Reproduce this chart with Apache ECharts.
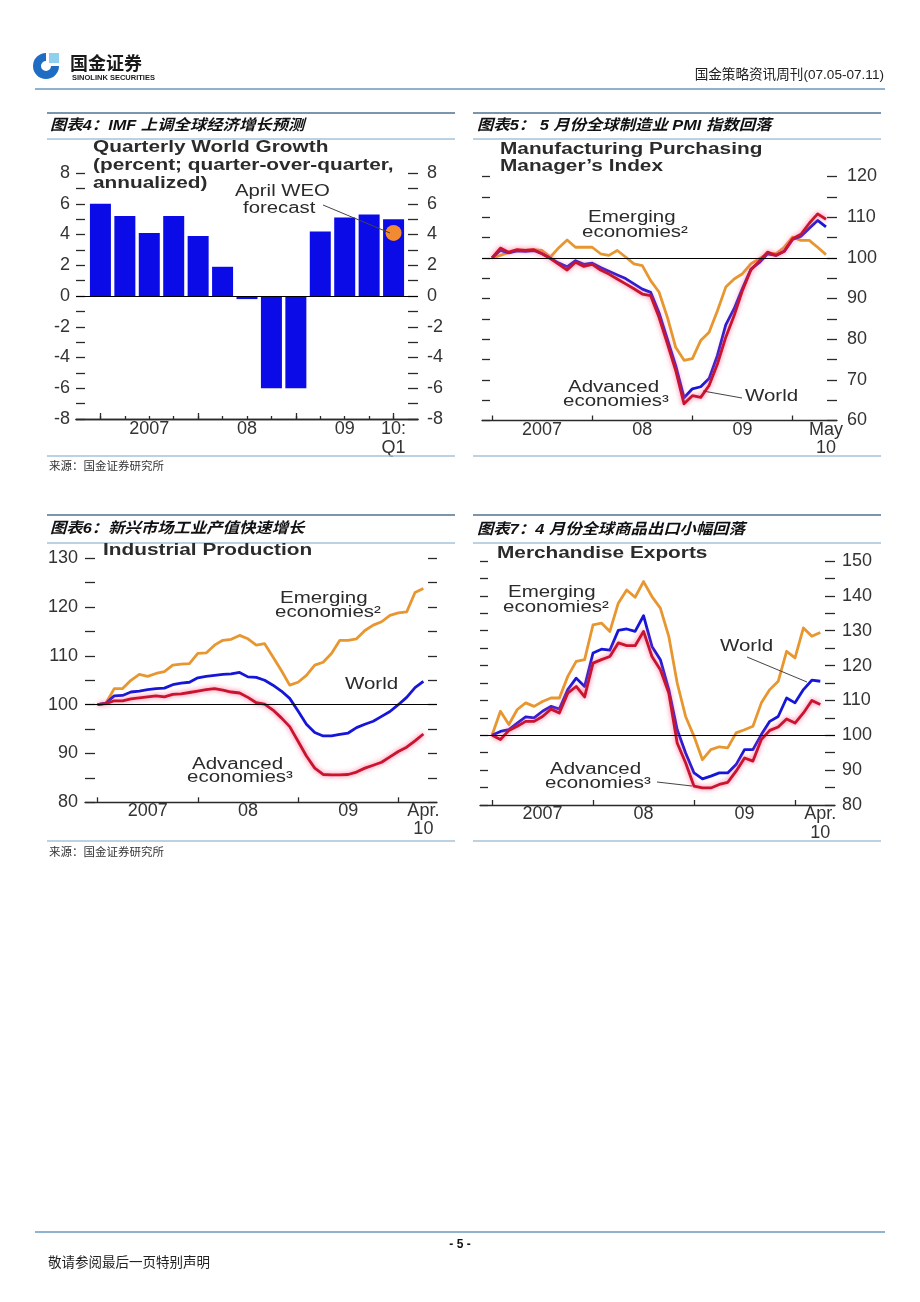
<!DOCTYPE html>
<html>
<head>
<meta charset="utf-8">
<script src="https://cdn.jsdelivr.net/npm/echarts@6/dist/echarts.min.js"></script>
<style>
html,body{margin:0;padding:0;background:#fff;}
#c{width:920px;height:1302px;}
</style>
</head>
<body>
<div id="c"></div>
<script>
// ---------- DATA ----------
// Chart 4: quarterly world growth, 2007Q1 .. 2010Q1
const quarterCats = ['2007Q1','2007Q2','2007Q3','2007Q4','2008Q1','2008Q2','2008Q3','2008Q4','2009Q1','2009Q2','2009Q3','2009Q4','2010Q1'];
const growthValues = [6.0, 5.2, 4.1, 5.2, 3.9, 1.9, -0.2, -6.0, -6.0, 4.2, 5.1, 5.3, 5.0];
const forecastIndex = 12;
const forecastValue = 4.1;
const growthTickLabels = {2:'2007', 6:'08', 10:'09', 12:'10:\nQ1'};

// Chart 5: PMI index, Jan 2007 .. May 2010 (monthly)
const pmiEmerging = [100, 100.6, 101.3, 101.8, 101.9, 102.0, 101.8, 100.2, 102.5, 104.4, 102.6, 102.6, 102.6, 101.0, 100.6, 101.8, 100.2, 98.5, 98.1, 94.4, 91.6, 85.4, 78.0, 74.8, 75.2, 79.7, 81.7, 87.0, 92.8, 94.8, 96.1, 98.5, 99.8, 101.0, 101.0, 102.6, 105.1, 104.3, 104.3, 102.6, 100.8];
const pmiWorld    = [100, 101.8, 101.2, 101.7, 101.6, 101.8, 101.0, 99.9, 98.7, 97.8, 99.3, 98.4, 98.7, 97.6, 96.7, 95.8, 94.9, 93.6, 92.3, 91.5, 86.5, 80.0, 73.5, 65.6, 67.8, 68.3, 70.3, 76.0, 83.5, 87.5, 92.5, 97.2, 98.8, 101.0, 100.6, 101.6, 104.5, 105.3, 107.3, 109.2, 107.6];
const pmiAdvanced = [100, 102.4, 101.4, 102.0, 101.8, 102.0, 101.0, 99.8, 98.4, 97.0, 98.9, 97.9, 98.4, 97.0, 96.0, 94.8, 93.6, 92.4, 91.1, 90.7, 85.4, 78.9, 72.3, 64.1, 66.1, 65.7, 68.6, 73.9, 80.5, 85.8, 92.0, 97.0, 99.2, 101.4, 100.6, 101.6, 104.7, 105.8, 108.5, 110.8, 109.5];
const pmiTickLabels = {6:'2007', 18:'08', 30:'09', 40:'May\n10'};

// Chart 6: industrial production, Jan 2007 .. Apr 2010
const ipEmerging = [100, 100.3, 103.3, 103.3, 105.0, 106.2, 105.8, 106.4, 106.8, 108.1, 108.3, 108.4, 110.5, 110.6, 112.2, 113.2, 113.4, 114.2, 113.5, 112.2, 112.5, 109.8, 107.0, 104.0, 104.6, 106.0, 108.1, 108.7, 110.5, 113.2, 113.2, 113.5, 115.2, 116.3, 117.0, 118.3, 118.8, 119.0, 123.0, 123.8];
const ipWorld    = [100, 100.3, 101.8, 101.9, 102.6, 102.8, 103.1, 103.3, 103.4, 104.1, 104.4, 104.6, 105.5, 105.8, 106.0, 106.2, 106.3, 106.6, 105.7, 105.6, 105.0, 104.0, 102.8, 101.3, 98.7, 96.0, 94.3, 93.6, 93.6, 93.9, 94.2, 95.3, 96.0, 96.6, 97.6, 98.6, 100.0, 101.5, 103.5, 104.8];
const ipAdvanced = [100, 100.2, 100.8, 100.8, 101.2, 101.4, 101.6, 101.8, 101.6, 102.1, 102.2, 102.5, 102.8, 103.1, 103.3, 103.0, 102.6, 102.4, 101.5, 100.4, 100.1, 98.9, 97.3, 95.5, 92.5, 89.5, 87.0, 85.7, 85.6, 85.6, 85.7, 86.2, 87.0, 87.6, 88.2, 89.3, 90.4, 91.3, 92.6, 94.0];
const monthlyTickLabels = {6:'2007', 18:'08', 30:'09', 39:'Apr.\n10'};

// Chart 7: merchandise exports, Jan 2007 .. Apr 2010
const exEmerging = [100, 106.9, 103.1, 107.4, 109.3, 108.3, 109.7, 110.7, 110.7, 116.9, 121.2, 121.7, 131.7, 132.2, 129.8, 137.9, 141.7, 139.6, 144.1, 139.8, 136.5, 128.4, 115.0, 105.4, 99.7, 93.0, 95.9, 96.7, 96.4, 100.7, 101.6, 102.6, 109.3, 113.1, 115.5, 124.1, 122.2, 130.8, 128.4, 129.5];
const exWorld    = [100, 101.1, 101.6, 103.5, 105.3, 105.0, 106.9, 108.3, 107.5, 113.1, 116.4, 114.0, 123.6, 124.7, 124.4, 130.1, 130.5, 129.8, 134.3, 125.5, 121.7, 113.1, 101.6, 94.9, 89.2, 87.5, 88.3, 89.2, 89.2, 91.6, 95.9, 95.9, 100.2, 104.0, 105.4, 110.7, 109.3, 113.1, 115.8, 115.5];
const exAdvanced = [100, 98.8, 101.4, 102.6, 104.0, 104.0, 105.4, 107.5, 106.4, 112.1, 114.0, 111.0, 120.7, 121.7, 122.6, 126.5, 125.7, 125.7, 129.8, 122.6, 118.8, 112.1, 97.8, 92.1, 85.4, 84.9, 84.9, 85.9, 86.5, 89.7, 93.5, 92.6, 98.8, 101.4, 102.4, 104.7, 103.5, 106.4, 110.0, 108.8];

// ---------- STYLE ----------
const AX = '#2a2a2a';
const TXT = '#2b2b2b';
const LAT = '"Liberation Sans", Arial, sans-serif';
const CJK = '"Liberation Sans", "Noto Sans CJK SC", sans-serif';
const C_OR = '#E8962F', C_BL = '#1616D8', C_RD = '#C8142E';
const LBL = {fontFamily: LAT, fontSize: 18, color: '#333'};

function range(a, b, s) { const r = []; for (let v = a; v <= b + 1e-9; v += s) r.push(+v.toFixed(6)); return r; }

function yAx(grid, pos, min, max, interval, tickLen, labels, margin) {
  return {
    type: 'value', gridIndex: grid, position: pos, min: min, max: max, interval: interval,
    axisLine: {show: false, onZero: false}, splitLine: {show: false},
    axisTick: {show: true, inside: true, length: tickLen, lineStyle: {color: AX, width: 1.3}},
    axisLabel: labels ? Object.assign({show: true, customValues: labels, margin: margin}, LBL) : {show: false}
  };
}
function xAx(grid, min, max, ticks, tickLen, labelMap, margin, lh) {
  const o = {
    type: 'value', gridIndex: grid, position: 'bottom', min: min, max: max,
    axisLine: {show: true, onZero: false, lineStyle: {color: AX, width: 1.3}},
    splitLine: {show: false},
    axisTick: {show: true, inside: true, length: tickLen, customValues: ticks, lineStyle: {color: AX, width: 1.3}},
    axisLabel: {show: false}
  };
  if (labelMap) {
    o.axisLabel = Object.assign({
      show: true, margin: margin, lineHeight: lh,
      customValues: Object.keys(labelMap).map(Number),
      formatter: v => labelMap[v] || ''
    }, LBL);
  }
  return o;
}
const zeroLine = (v) => ({silent: true, symbol: ['none', 'none'], label: {show: false},
  lineStyle: {color: '#000', width: 1, type: 'solid'}, data: [{yAxis: v}]});

function lineS(xi, yi, arr, color, glow, extra) {
  const s = {
    type: 'line', xAxisIndex: xi, yAxisIndex: yi, symbol: 'none', showSymbol: false,
    data: arr.map((v, i) => [i, v]),
    lineStyle: {color: color, width: 2.8, join: 'round'}, z: glow ? 4 : 3
  };
  if (glow) { s.lineStyle.shadowColor = 'rgba(255,90,140,0.9)'; s.lineStyle.shadowBlur = 5; }
  return Object.assign(s, extra || {});
}

// ---------- GRAPHIC helpers ----------
function txt(x, y, text, font, opts) {
  opts = opts || {};
  return {type: 'text', x: x, y: y, scaleX: opts.sx || 1, z: 50,
    style: {text: text, font: font, fill: opts.fill || TXT,
      textAlign: opts.align || 'left', align: opts.align || 'left',
      textVerticalAlign: 'middle', verticalAlign: 'middle'}};
}
function hline(x1, y, x2, color, w) {
  return {type: 'line', z: 40, shape: {x1: x1, y1: y, x2: x2, y2: y}, style: {stroke: color, lineWidth: w}};
}
function seg(x1, y1, x2, y2) {
  return {type: 'line', z: 45, shape: {x1: x1, y1: y1, x2: x2, y2: y2}, style: {stroke: '#444', lineWidth: 1}};
}
const TITLE_F = 'bold 16px ' + LAT;
const ANN_F = '16px ' + LAT;
const CT_F = 'italic bold 15px ' + CJK;
const SX = 1.3;
const CSX = 1.09;

const graphics = [
  // header
  {type: 'sector', z: 50, shape: {cx: 46, cy: 66, r: 13, r0: 5, startAngle: 0, endAngle: Math.PI * 1.5, clockwise: true}, style: {fill: '#1f6dc2'}},
  {type: 'rect', z: 50, shape: {x: 49, y: 53, width: 10, height: 10}, style: {fill: '#8fd0ee'}},
  txt(70, 63, '国金证券', 'bold 18px "Noto Sans CJK SC"', {fill: '#1a1a1a'}),
  txt(72, 78, 'SINOLINK SECURITIES', 'bold 7.5px ' + LAT, {fill: '#1a1a1a'}),
  txt(884, 75, '国金策略资讯周刊(07.05-07.11)', '13.6px ' + CJK, {align: 'right', fill: '#222'}),
  hline(35, 89, 885, '#8fb3cf', 2),
  // panel lines
  hline(47, 113, 455, '#7d95ab', 2), hline(473, 113, 881, '#7d95ab', 2),
  hline(47, 139, 455, '#a6c3d8', 1.5), hline(473, 139, 881, '#a6c3d8', 1.5),
  hline(47, 456, 455, '#a6c3d8', 1.5), hline(473, 456, 881, '#a6c3d8', 1.5),
  hline(47, 515, 455, '#7d95ab', 2), hline(473, 515, 881, '#7d95ab', 2),
  hline(47, 543, 455, '#a6c3d8', 1.5), hline(473, 543, 881, '#a6c3d8', 1.5),
  hline(47, 841, 455, '#a6c3d8', 1.5), hline(473, 841, 881, '#a6c3d8', 1.5),
  // chinese titles
  txt(50, 126, '图表4：IMF 上调全球经济增长预测', CT_F, {fill: '#111', sx: CSX}),
  txt(477, 126, '图表5： 5 月份全球制造业 PMI 指数回落', CT_F, {fill: '#111', sx: CSX}),
  txt(50, 529, '图表6：新兴市场工业产值快速增长', CT_F, {fill: '#111', sx: CSX}),
  txt(477, 530, '图表7：4 月份全球商品出口小幅回落', CT_F, {fill: '#111', sx: CSX}),
  // sources
  txt(49, 466, '来源：国金证券研究所', '11.5px "Noto Sans CJK SC"', {fill: '#333'}),
  txt(49, 852, '来源：国金证券研究所', '11.5px "Noto Sans CJK SC"', {fill: '#333'}),
  // chart 4 texts
  txt(93, 148, 'Quarterly World Growth', TITLE_F, {sx: SX}),
  txt(93, 166, '(percent; quarter-over-quarter,', TITLE_F, {sx: SX}),
  txt(93, 184, 'annualized)', TITLE_F, {sx: SX}),
  txt(235, 192, 'April WEO', ANN_F, {sx: 1.27}),
  txt(243, 209, 'forecast', ANN_F, {sx: 1.27}),
  seg(323, 205, 390, 233),
  // chart 5 texts
  txt(500, 150, 'Manufacturing Purchasing', TITLE_F, {sx: SX}),
  txt(500, 167, 'Manager\u2019s Index', TITLE_F, {sx: SX}),
  txt(588, 218, 'Emerging', ANN_F, {sx: 1.28}),
  txt(582, 233, 'economies\u00b2', ANN_F, {sx: 1.28}),
  txt(568, 388, 'Advanced', ANN_F, {sx: 1.28}),
  txt(563, 402, 'economies\u00b3', ANN_F, {sx: 1.28}),
  txt(745, 397, 'World', ANN_F, {sx: 1.28}),
  seg(742, 398, 703, 391),
  // chart 6 texts
  txt(103, 551, 'Industrial Production', TITLE_F, {sx: SX}),
  txt(280, 599, 'Emerging', ANN_F, {sx: 1.28}),
  txt(275, 613, 'economies\u00b2', ANN_F, {sx: 1.28}),
  txt(345, 685, 'World', ANN_F, {sx: 1.28}),
  txt(192, 765, 'Advanced', ANN_F, {sx: 1.28}),
  txt(187, 778, 'economies\u00b3', ANN_F, {sx: 1.28}),
  // chart 7 texts
  txt(497, 554, 'Merchandise Exports', TITLE_F, {sx: SX}),
  txt(508, 593, 'Emerging', ANN_F, {sx: 1.28}),
  txt(503, 608, 'economies\u00b2', ANN_F, {sx: 1.28}),
  txt(720, 647, 'World', ANN_F, {sx: 1.28}),
  seg(747, 657, 807, 682),
  txt(550, 770, 'Advanced', ANN_F, {sx: 1.28}),
  txt(545, 784, 'economies\u00b3', ANN_F, {sx: 1.28}),
  seg(657, 782, 692, 786),
  // footer
  hline(35, 1232, 885, '#8fb3cf', 2),
  txt(460, 1245, '- 5 -', 'bold 12px ' + LAT, {align: 'center', fill: '#111'}),
  txt(48, 1262, '敬请参阅最后一页特别声明', '13.5px "Noto Sans CJK SC"', {fill: '#222'})
];

const option = {
  animation: false,
  backgroundColor: '#fff',
  grid: [
    {left: 76, top: 173, width: 342, height: 246, outerBoundsMode: 'none'},
    {left: 482, top: 176.5, width: 355, height: 244, outerBoundsMode: 'none'},
    {left: 85, top: 558.3, width: 352, height: 244, outerBoundsMode: 'none'},
    {left: 480, top: 561, width: 355, height: 244, outerBoundsMode: 'none'}
  ],
  xAxis: [
    xAx(0, -1, 13, range(0, 12, 1), 3, growthTickLabels, 1, 19),
    xAx(0, -1, 13, [0, 4, 8, 12], 6, null),
    xAx(1, -1.2, 41.32, [0, 12, 24, 36], 5, pmiTickLabels, 1, 18),
    xAx(2, -1.5, 40.63, [0, 12, 24, 36], 5, monthlyTickLabels, 0, 18),
    xAx(3, -1.43, 40.75, [0, 12, 24, 36], 5, monthlyTickLabels, 0, 19)
  ],
  yAxis: [
    yAx(0, 'left', -8, 8, 1, 9, range(-8, 8, 2), 6),
    yAx(0, 'right', -8, 8, 1, 10, range(-8, 8, 2), 9),
    yAx(1, 'left', 60, 120, 5, 8, null),
    yAx(1, 'right', 60, 120, 5, 10, range(60, 120, 10), 10),
    yAx(2, 'left', 80, 130, 5, 10, range(80, 130, 10), 7),
    yAx(2, 'right', 80, 130, 5, 9, null),
    yAx(3, 'left', 80, 150, 5, 8, null),
    yAx(3, 'right', 80, 150, 5, 10, range(80, 150, 10), 7)
  ],
  series: [
    {type: 'bar', name: 'Quarterly World Growth', xAxisIndex: 0, yAxisIndex: 0,
      data: growthValues.map((v, i) => [i, v]), barWidth: 21,
      itemStyle: {color: '#0B0BE8'}, markLine: zeroLine(0)},
    {type: 'scatter', name: 'April WEO forecast', xAxisIndex: 0, yAxisIndex: 0,
      data: [[forecastIndex, forecastValue]], symbolSize: 16,
      itemStyle: {color: '#F28A30', opacity: 1}, z: 5},

    lineS(2, 3, pmiEmerging, C_OR, false, {markLine: zeroLine(100)}),
    lineS(2, 3, pmiWorld, C_BL, false),
    lineS(2, 3, pmiAdvanced, C_RD, true),

    lineS(3, 4, ipEmerging, C_OR, false, {markLine: zeroLine(100)}),
    lineS(3, 4, ipWorld, C_BL, false),
    lineS(3, 4, ipAdvanced, C_RD, true),

    lineS(4, 7, exEmerging, C_OR, false, {markLine: zeroLine(100)}),
    lineS(4, 7, exWorld, C_BL, false),
    lineS(4, 7, exAdvanced, C_RD, true)
  ],
  graphic: graphics
};

const chart = echarts.init(document.getElementById('c'));
chart.setOption(option);
</script>
</body>
</html>
